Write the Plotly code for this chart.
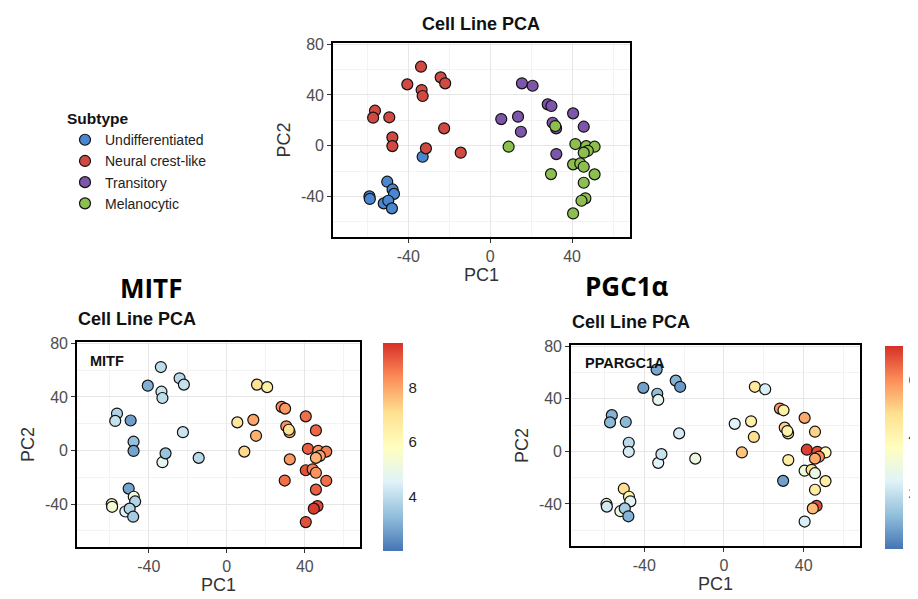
import plotly.graph_objects as go

# ---------------- data ----------------
subtypes = ["Undifferentiated", "Neural crest-like", "Transitory", "Melanocytic"]
subtype_colors = ["#4a87d0", "#d04a43", "#7d55ab", "#8dbf4e"]

und_pc1 = [-33, -50.3, -47.7, -47, -59, -58.8, -52, -49.8, -48]
und_pc2 = [-8.7, -28.4, -34.5, -38, -40, -42, -45.5, -43.4, -49.4]
und_mitf = [4.8, 2.8, 5.2, 3.8, 5.5, 5.3, 4.6, 3.8, 3.6]
und_pgc = [2.4, 4.8, 4.0, 2.5, 3.2, 2.2, 3.0, 1.5, 1.0]

ncl_pc1 = [-33.8, -40.5, -33.5, -33, -24.2, -22, -56.3, -57.2, -49.3, -47.8, -47.8, -22.5, -31.4, -14.4]
ncl_pc2 = [62.3, 48.4, 43.9, 39.2, 53.9, 49.2, 27.6, 22.1, 22.4, 6.6, -0.3, 13.7, -2.1, -5.5]
ncl_mitf = [4.0, 3.0, 4.2, 4.0, 3.9, 4.1, 3.8, 4.1, 2.7, 3.3, 2.8, 4.2, 3.4, 3.9]
ncl_pgc = [0.8, 0.7, 1.2, 2.6, 1.0, 0.6, 1.0, 1.1, 1.1, 1.8, 2.2, 2.2, 2.0, 2.9]

tra_pc1 = [5.4, 13.6, 15, 15.5, 20.7, 28.1, 29.9, 30.5, 32.2, 40.5, 45.7, 32.3]
tra_pc2 = [21, 22.9, 11, 49.2, 47.3, 32.6, 31.3, 18.1, 13.7, 25.5, 15, -6.6]
tra_mitf = [6.8, 8.0, 7.8, 7.0, 6.5, 8.4, 8.2, 8.3, 8.0, 8.8, 8.9, 8.2]
tra_pgc = [2.4, 4.2, 4.8, 4.5, 2.3, 5.8, 4.2, 5.0, 4.3, 5.6, 5.0, 4.3]

mel_pc1 = [9, 31.8, 29.7, 41.6, 46.9, 51, 47.7, 45.7, 40.5, 44, 45.7, 51, 45.7, 46.5, 44.6, 40.5]
mel_pc2 = [-0.8, 15.5, -22.4, 1.3, -0.3, -0.8, -4, -5.5, -14.7, -14, -16.6, -22.6, -29.2, -41.5, -43.4, -53.4]
mel_mitf = [7.2, 7.0, 8.8, 9.0, 8.2, 8.6, 8.0, 7.8, 9.2, 8.6, 8.3, 8.8, 9.0, 9.3, 9.5, 9.2]
mel_pgc = [5.2, 4.1, 0.7, 7.0, 6.8, 3.8, 6.0, 5.6, 3.0, 4.7, 2.8, 4.3, 4.4, 6.8, 5.3, 2.3]

pc1_groups = [und_pc1, ncl_pc1, tra_pc1, mel_pc1]
pc2_groups = [und_pc2, ncl_pc2, tra_pc2, mel_pc2]
mitf_groups = [und_mitf, ncl_mitf, tra_mitf, mel_mitf]
pgc_groups = [und_pgc, ncl_pgc, tra_pgc, mel_pgc]

x_ticks = [-40, 0, 40]
x_tick_labels = ["-40", "0", "40"]
y_ticks = [-40, 0, 40, 80]
y_tick_labels = ["-40", "0", "40", "80"]
mitf_ticks = [4, 6, 8]
pgc_ticks = [2, 4, 6]

rdylbu = ["#4575B4", "#91BFDB", "#E0F3F8", "#FFFFBF", "#FEE090", "#FC8D59", "#D73027"]
colorscale = [[i / (len(rdylbu) - 1), c] for i, c in enumerate(rdylbu)]

# ---------------- layout helpers ----------------
# the page body has an 8px default margin, so the figure is offset by 8px
OFF = 8
W, H = 918 - OFF, 599 - OFF


def px(X):
    return (X - OFF) / W


def py(Y):
    return 1 - (Y - OFF) / H


FONT = "Liberation Sans, Arial, sans-serif"
fig = go.Figure()

all_pc1 = [v for g in pc1_groups for v in g]
all_pc2 = [v for g in pc2_groups for v in g]
all_mitf = [v for g in mitf_groups for v in g]
all_pgc = [v for g in pgc_groups for v in g]

for name, col, xs, ys in zip(subtypes, subtype_colors, pc1_groups, pc2_groups):
    fig.add_trace(go.Scatter(
        x=xs, y=ys, mode="markers", name=name, xaxis="x", yaxis="y",
        marker=dict(size=11, color=col, line=dict(color="#111111", width=1.2)),
    ))

cb_common = dict(xanchor="left", xpad=0, ypad=0, yanchor="top", lenmode="fraction",
                 outlinewidth=0, ticks="outside", ticklen=3, tickcolor="white",
                 tickfont=dict(family=FONT, size=15, color="#222222"))

fig.add_trace(go.Scatter(
    x=all_pc1, y=all_pc2, mode="markers", showlegend=False, xaxis="x2", yaxis="y2",
    marker=dict(size=11, color=all_mitf, colorscale=colorscale, cmin=2.0, cmax=9.65,
                line=dict(color="#111111", width=1.2),
                colorbar=dict(x=px(383), y=py(343), len=208 / H, thickness=20,
                              tickvals=mitf_ticks, **cb_common)),
))

fig.add_trace(go.Scatter(
    x=all_pc1, y=all_pc2, mode="markers", showlegend=False, xaxis="x3", yaxis="y3",
    marker=dict(size=11, color=all_pgc, colorscale=colorscale, cmin=0.0, cmax=7.2,
                line=dict(color="#111111", width=1.2),
                colorbar=dict(x=px(885), y=py(346), len=203 / H, thickness=18,
                              tickvals=pgc_ticks, **cb_common)),
))


def xaxis(domain, anchor, standoff):
    return dict(domain=domain, anchor=anchor, range=[-76.8, 68.3],
                tickvals=x_ticks, ticktext=x_tick_labels, automargin=False,
                showgrid=True, gridcolor="#e6e6e6", gridwidth=1,
                minor=dict(dtick=20, tick0=0, showgrid=True, gridcolor="#f3f3f3", gridwidth=0.7),
                zeroline=False, showline=True, linecolor="black", linewidth=1.6, mirror=True,
                ticks="outside", ticklen=4, tickcolor="#333333",
                tickfont=dict(family=FONT, size=16, color="#4d4d4d"),
                title=dict(text="PC1", standoff=standoff,
                           font=dict(family=FONT, size=18, color="#333333")))


def yaxis(domain, anchor, standoff):
    return dict(domain=domain, anchor=anchor, range=[-72, 81],
                tickvals=y_ticks, ticktext=y_tick_labels, automargin=False,
                showgrid=True, gridcolor="#e6e6e6", gridwidth=1,
                minor=dict(dtick=20, tick0=0, showgrid=True, gridcolor="#f3f3f3", gridwidth=0.7),
                zeroline=False, showline=True, linecolor="black", linewidth=1.6, mirror=True,
                ticks="outside", ticklen=4, tickcolor="#333333",
                tickfont=dict(family=FONT, size=16, color="#4d4d4d"),
                title=dict(text="PC2", standoff=standoff,
                           font=dict(family=FONT, size=18, color="#333333")))


fig.update_layout(
    width=W, height=H, margin=dict(l=0, r=0, t=0, b=0, autoexpand=False),
    paper_bgcolor="white", plot_bgcolor="white",
    xaxis=xaxis([px(333), px(630)], "y", 2),
    yaxis=yaxis([py(237), py(43)], "x", 6),
    xaxis2=xaxis([px(77), px(360)], "y2", 2),
    yaxis2=yaxis([py(547), py(342)], "x2", 6),
    xaxis3=xaxis([px(571), px(860)], "y3", 2),
    yaxis3=yaxis([py(546), py(345)], "x3", 6),
    legend=dict(x=px(65), y=py(104), xanchor="left", yanchor="top",
                bgcolor="rgba(0,0,0,0)", borderwidth=0, tracegroupgap=0,
                font=dict(family=FONT, size=14, color="#222222"),
                title=dict(text="<b>Subtype</b>", font=dict(family=FONT, size=15.5, color="#111111"))),
    showlegend=True,
)

ann = [
    dict(text="<b>Cell Line PCA</b>", x=px(481), y=py(24), xanchor="center", yanchor="middle",
         font=dict(family=FONT, size=18, color="#111111")),
    dict(text="<b>Cell Line PCA</b>", x=px(76), y=py(319), xanchor="left", yanchor="middle",
         font=dict(family=FONT, size=18, color="#111111")),
    dict(text="<b>Cell Line PCA</b>", x=px(570), y=py(322), xanchor="left", yanchor="middle",
         font=dict(family=FONT, size=18, color="#111111")),
    dict(text="<b>MITF</b>", x=px(151), y=py(288), xanchor="center", yanchor="middle",
         font=dict(family="Open Sans, sans-serif", size=26, color="#000000")),
    dict(text="<b>PGC1α</b>", x=px(627), y=py(286), xanchor="center", yanchor="middle",
         font=dict(family="Open Sans, sans-serif", size=26, color="#000000")),
    dict(text="<b>MITF</b>", x=px(88), y=py(361), xanchor="left", yanchor="middle",
         font=dict(family=FONT, size=14.5, color="#111111")),
    dict(text="<b>PPARGC1A</b>", x=px(583), y=py(363), xanchor="left", yanchor="middle",
         font=dict(family=FONT, size=14.5, color="#111111")),
]
for a in ann:
    a.update(xref="paper", yref="paper", showarrow=False)
fig.update_layout(annotations=ann)

fig.write_html("out.html")
